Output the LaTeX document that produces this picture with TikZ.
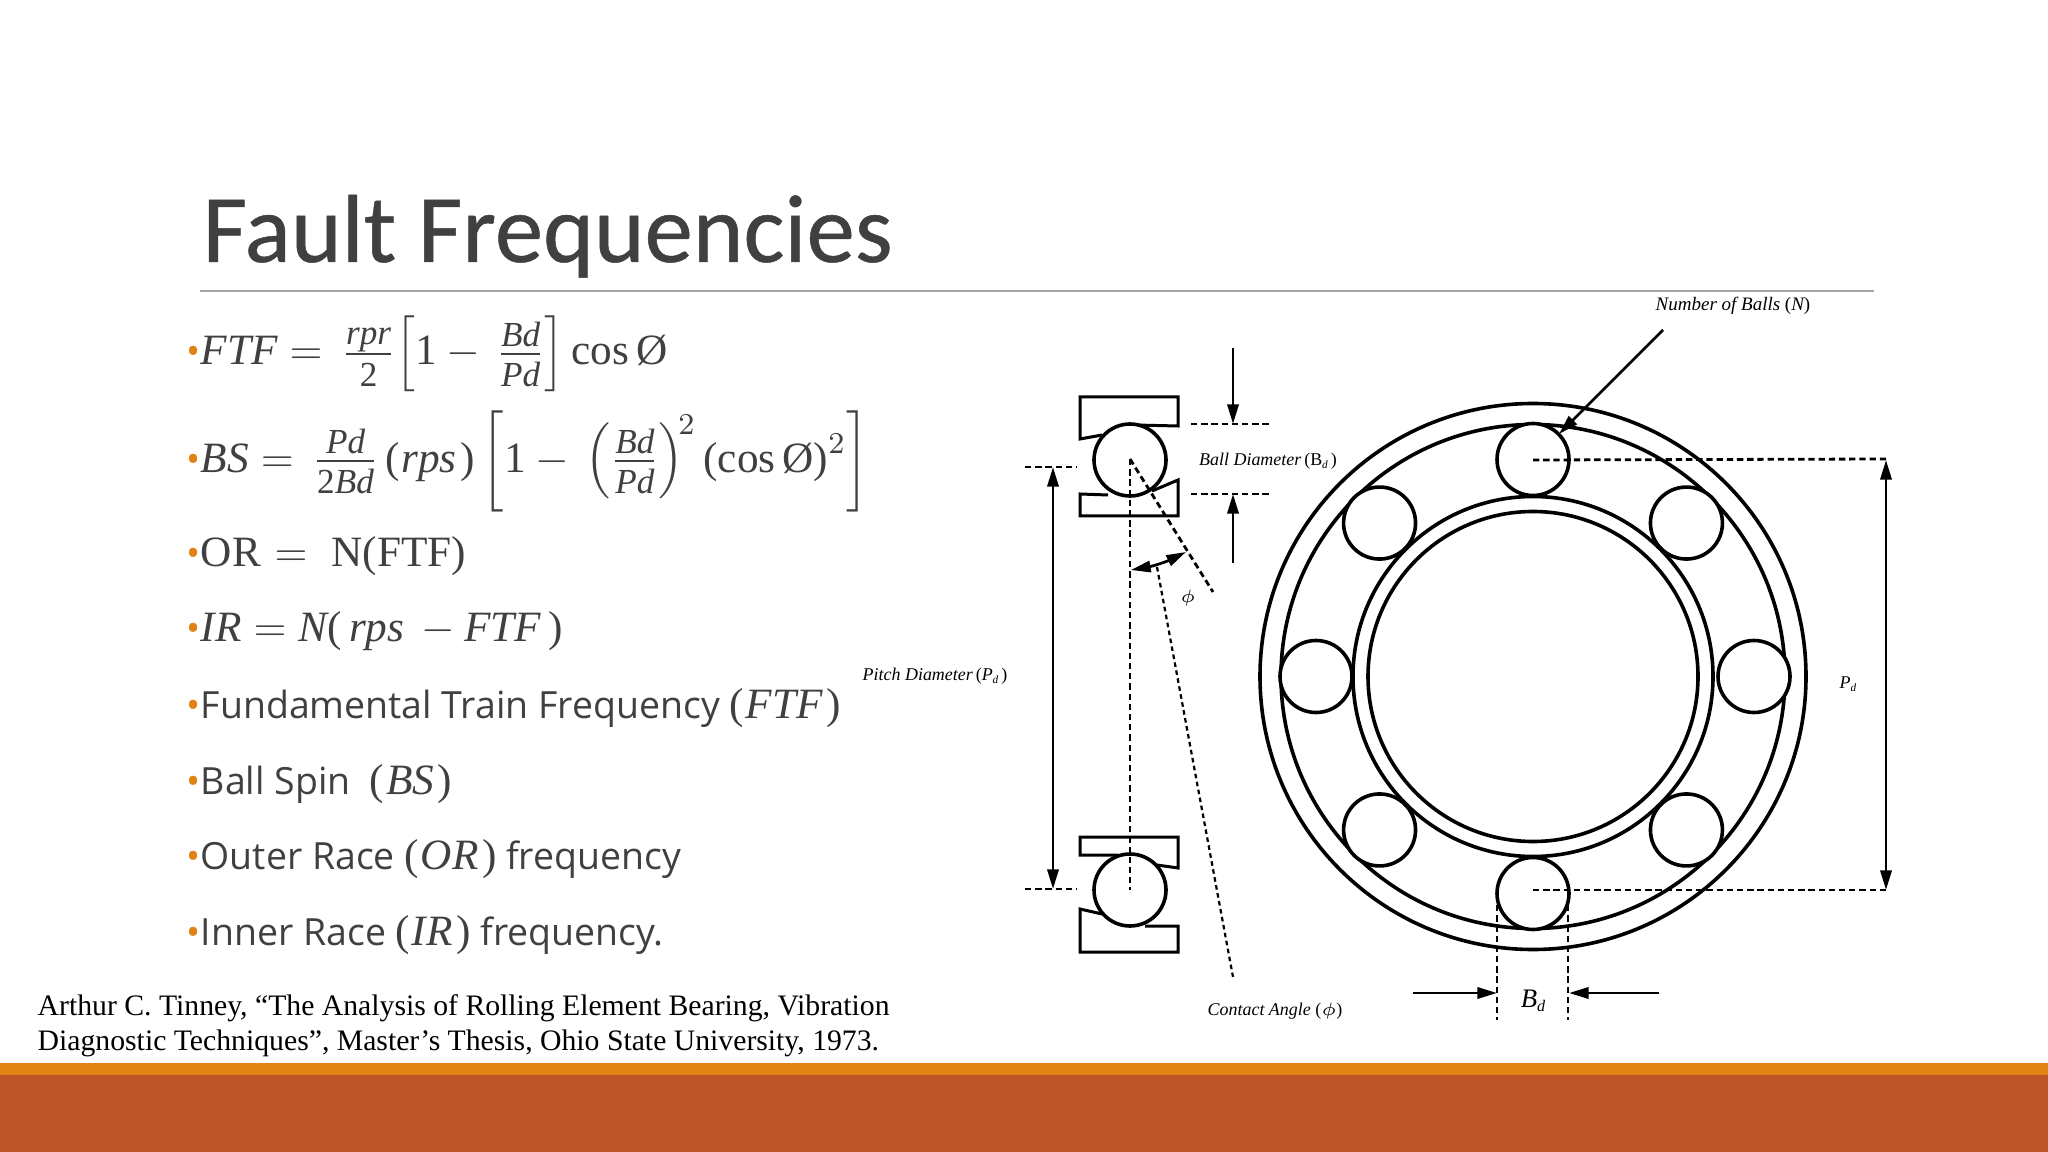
\documentclass[tikz,border=0pt]{standalone}
\usepackage{fix-cm}
\usepackage{amsmath}
\usepackage{fontspec}
\setmainfont{Open Sans}
\newfontfamily\timesfont{Liberation Serif}
\newfontfamily\titlefont[FakeBold=0.5]{Carlito}
\usetikzlibrary{arrows.meta,positioning}
\definecolor{slidegray}{HTML}{404040}
\definecolor{rulegray}{HTML}{A6A6A6}
\definecolor{orangebar}{HTML}{E08214}
\definecolor{rustbar}{HTML}{BC5628}
\newcommand{\dotb}{{\color{orangebar}\fontsize{10.65}{12}\selectfont\textbullet}}
\newcommand{\vt}[1]{\mbox{\timesfont\itshape\fontsize{12.3}{14}\selectfont #1}}
\newcommand{\vp}[1]{\mbox{\timesfont\upshape\fontsize{12.3}{14}\selectfont #1}}
\newcommand{\pv}[1]{\vp{(}\kern0.5pt\vt{#1}\kern1pt\vp{)}}
\newcommand{\fr}[2]{\frac{\mbox{\timesfont\itshape\fontsize{10}{11}\selectfont #1\rule[-1.6pt]{0pt}{1.6pt}}}{\mbox{\timesfont\itshape\fontsize{10}{11}\selectfont\rule{0pt}{8.4pt}#2}}}
\newcommand{\subd}{\raisebox{-0.8pt}{\fontsize{3.2}{4}\selectfont\itshape d}}
\tikzset{
  ring/.style={line width=3.6pt*0.2845},
  ball/.style={line width=3.6pt*0.2845,fill=white},
  race/.style={line width=3pt*0.2845,fill=white},
  dimline/.style={line width=2.8pt*0.2845,-{Triangle[length=5.6pt,width=3.2pt]}},
  dimboth/.style={line width=2.8pt*0.2845,{Triangle[length=5.6pt,width=3.2pt]}-{Triangle[length=5.6pt,width=3.2pt]}},
  dashln/.style={line width=2.8pt*0.2845,dash pattern=on 1.8pt off 1.1pt},
  fineln/.style={line width=2.2pt*0.2845,dash pattern=on 1.3pt off 1pt},
  item/.style={anchor=base west,inner sep=0pt,text=slidegray,font=\fontsize{10.65}{12}\selectfont},
  eqn/.style={item,font=\fontsize{12.3}{14}\selectfont},
  reftext/.style={anchor=base west,inner sep=0pt,font=\timesfont\fontsize{8.45}{10}\selectfont},
  lbl/.style={inner sep=0pt,font=\timesfont\itshape\fontsize{5.1}{6}\selectfont}
}
\begin{document}
\begin{tikzpicture}[x=0.01cm,y=-0.01cm]
\useasboundingbox (0,0) rectangle (2048,1152);
% slide frame
\fill[orangebar] (0,1063) rectangle (2048,1076);
\fill[rustbar] (0,1075) rectangle (2048,1152);
\draw[rulegray,line width=0.5pt] (200,291) -- (1874,291);
\node[anchor=base west,inner sep=0pt,text=slidegray,font=\titlefont\fontsize{27.5}{30}\selectfont] (title) at (202,262) {Fault Frequencies};
% left column
\node[eqn] (ftf) at (186,365) {\dotb$\vt{FTF}=\,\fr{rpr}{\upshape 2}\Bigl[\vp{1}-\,\fr{Bd}{Pd}\Bigr]\,\vp{cos\,Ø}$};
\node[eqn] (bs) at (186,472) {\dotb$\vt{BS}=\,\fr{Pd}{{\upshape 2}Bd}\,\pv{rps}\,\biggl[\vp{1}-\,\Bigl(\fr{Bd}{Pd}\Bigr)^{\!2}\,\vp{(cos\,Ø)}^{2}\biggr]$};
\node[eqn] (or) at (186,567) {\dotb$\vp{OR}\kern0.5pt=\;\vp{N(FTF)}$};
\node[eqn] (ir) at (186,641) {\dotb$\vt{IR}=\vt{N}\vp{(}\,\vt{rps}\,-\vt{FTF}\,\vp{)}$};
\node[item] (fund) at (186,718) {\dotb Fundamental Train Frequency \pv{FTF}};
\node[item] (spin) at (186,794) {\dotb Ball Spin \ \pv{BS}};
\node[item] (outer) at (186,869) {\dotb Outer Race \pv{OR} frequency};
\node[item] (inner) at (186,945) {\dotb Inner Race \pv{IR} frequency.};
\node[reftext] (refa) at (37,1015) {Arthur C. Tinney, “The Analysis of Rolling Element Bearing, Vibration};
\node[reftext] (refb) at (37,1050) {Diagnostic Techniques”, Master’s Thesis, Ohio State University, 1973.};
% bearing front view
\coordinate (hub) at (1533,676.5);
\foreach \r in {273,252,180,165} {
  \draw[ring] (hub) circle[radius=\r];
}
\foreach \a/\p in {0/221,45/217,90/217,135/217,180/217,225/217,270/217,315/217} {
  \draw[ball] (hub) ++(\a:\p) circle[radius=36];
}
% section, top
\draw[race] (1102,435) -- (1080,439) -- (1080,397) -- (1178,397) -- (1178,426) -- (1135,425);
\draw[race] (1108,495) -- (1080,494) -- (1080,516) -- (1178,516) -- (1178,480) -- (1152,491);
\draw[ball] (1130,460) circle[radius=36];
% section, bottom
\draw[race] (1118,855) -- (1080,855) -- (1080,837) -- (1178,837) -- (1178,868) -- (1157,865);
\draw[race] (1102,914) -- (1080,909) -- (1080,952) -- (1178,952) -- (1178,926) -- (1145,926);
\draw[ball] (1130,890) circle[radius=36];
% dashed guide lines
\coordinate (secball) at (1130,459);
\coordinate (secend) at (1213,592);
\coordinate (contact) at (1157,567);
\coordinate (contactend) at (1233,977);
\draw[dashln] (secball) -- (1130,890);
\draw[dashln] (secball) -- (secend);
\draw[fineln] (contact) -- (contactend);
\draw[dashln] (1025,467) -- (1077,467);
\draw[dashln] (1025,889) -- (1077,889);
\draw[dashln] (1191,424) -- (1272,424);
\draw[dashln] (1191,494) -- (1272,494);
\draw[dashln] (1533,460) -- (1886,459);
\draw[dashln] (1533,890) -- (1886,890);
\draw[dashln] (1497,905) -- (1497,1020);
\draw[dashln] (1568,905) -- (1568,1020);
% arrows
\draw[dimboth] (1053,467) -- (1053,889);
\draw[dimboth] (1886,460) -- (1886,890);
\draw[dimline] (1233,348) -- (1233,424);
\draw[dimline] (1233,563) -- (1233,494);
\draw[dimboth] (1131,570) to[bend right=8] (1186,552);
\draw[dimline] (1413,993) -- (1497,993);
\draw[dimline] (1659,993) -- (1569,993);
\coordinate (ballsend) at (1663,330);
\draw[dimline] (ballsend) -- (1559,434);
% labels
\node[lbl] (balld) at (1268,461) {Ball Diameter\,{\upshape(B\subd\,)}};
\node[lbl] (pitch) at (935,676) {Pitch Diameter\,{\upshape(}P\subd\,{\upshape)}};
\node[lbl,font=\timesfont\itshape\fontsize{5.4}{6}\selectfont] (nballs) at (1733,306) {Number of Balls {\upshape(}N{\upshape)}};
\node[lbl] (contactl) at (1275,1011) {Contact Angle {\upshape(}$\phi${\upshape)}};
\node[lbl] (phil) at (1188,598) {$\phi$};
\node[lbl] (pdr) at (1848,684) {P\subd};
\node[lbl,font=\timesfont\itshape\fontsize{7.6}{9}\selectfont] (bdb) at (1533,1001) {B\raisebox{-1.2pt}{\fontsize{4.6}{5}\selectfont d}};
\end{tikzpicture}
\end{document}
